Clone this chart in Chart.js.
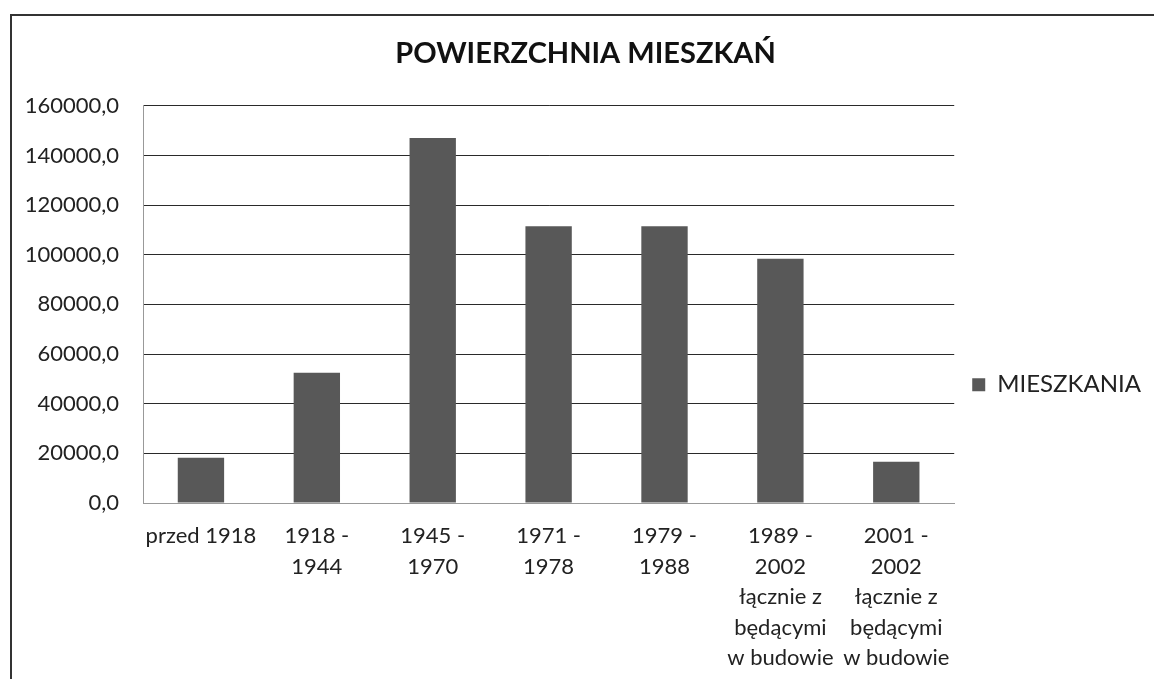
<!DOCTYPE html>
<html>
<head>
<meta charset="utf-8">
<script src="https://cdn.jsdelivr.net/npm/chart.js@4/dist/chart.umd.min.js"></script>
<style>
	html, body { margin: 0; padding: 0; background: #fff; overflow: hidden; }
	#wrap { position: absolute; left: 0; top: 0; width: 1154px; height: 679px; }
	#frame { position: absolute; left: 10px; top: 14px; width: 1160px; height: 700px; border-left: 2px solid #333; border-top: 2px solid #333; }
</style>
</head>
<body>
<div id="wrap">
	<div id="frame"></div>
	<canvas id="chart" width="1154" height="679"></canvas>
</div>
<script>
// Chart data
const title = 'POWIERZCHNIA MIESZKAŃ';
const seriesName = 'MIESZKANIA';
const categories = [
	['przed 1918'],
	['1918 -', '1944'],
	['1945 -', '1970'],
	['1971 -', '1978'],
	['1979 -', '1988'],
	['1989 -', '2002', 'łącznie z', 'będącymi', 'w budowie'],
	['2001 -', '2002', 'łącznie z', 'będącymi', 'w budowie'],
];
const values = [18200, 52500, 147000, 111500, 111500, 98400, 16600];
const yTicks = [0, 20000, 40000, 60000, 80000, 100000, 120000, 140000, 160000];

const fontFamily = 'Lato, "Open Sans", sans-serif';

let ctx = document.getElementById('chart');
let chart = new Chart(ctx, {
	type: 'bar',
	data: {
		labels: categories,
		datasets: [{
			label: seriesName,
			data: values,
			backgroundColor: '#585858',
			borderWidth: 0,
			barPercentage: 0.8,
			categoryPercentage: 0.5,
		}],
	},
	options: {
		responsive: false,
		animation: false,
		layout: {
			// left padding also moves the title a little to the right
			padding: { top: 36, right: 3, left: 20, bottom: 0 },
		},
		plugins: {
			title: {
				display: true,
				text: title,
				color: '#111',
				font: { family: fontFamily, size: 29, weight: 'bold' },
				padding: { top: 0, bottom: 35 },
			},
			legend: {
				position: 'right',
				// empty legend title only pushes the entry a bit lower, like the original
				title: { display: true, text: '', padding: { top: 20, bottom: 20 } },
				labels: {
					color: '#222',
					font: { family: fontFamily, size: 24 },
					boxWidth: 13,
					boxHeight: 13,
					padding: 18,
				},
			},
			tooltip: { enabled: false },
		},
		scales: {
			x: {
				grid: { display: false, drawTicks: false },
				border: { color: '#999', width: 1 },
				ticks: {
					color: '#222',
					font: { family: fontFamily, size: 22, lineHeight: '30.5px' },
					padding: 18,
					maxRotation: 0,
					autoSkip: false,
				},
				afterFit: scale => { scale.height = 176; },
			},
			y: {
				min: 0,
				max: 160000,
				afterBuildTicks: axis => { axis.ticks = yTicks.map(v => ({ value: v })); },
				grid: { color: '#2a2a2a', drawTicks: false },
				border: { color: '#999', width: 1 },
				ticks: {
					color: '#222',
					font: { family: fontFamily, size: 22 },
					padding: 24,
					callback: v => v.toFixed(1).replace('.', ','),
				},
				afterFit: scale => { scale.width = 123; },
			},
		},
	},
});
</script>
</body>
</html>
